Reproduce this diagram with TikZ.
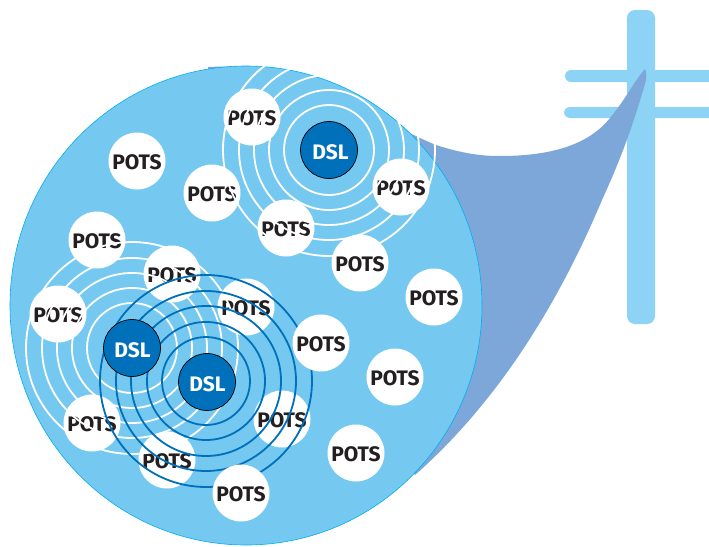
\documentclass[tikz,border=0pt]{standalone}
\usepackage{fontspec}
\setmainfont{Fira Sans}
\definecolor{polecol}{HTML}{8DD3F5}
\definecolor{lenscol}{HTML}{7DA7D9}
\definecolor{zonecol}{HTML}{75C9F1}
\definecolor{edgecol}{HTML}{00AEEF}
\definecolor{dslcol}{HTML}{0070BA}
\definecolor{potstext}{HTML}{231F20}
\tikzset{
  pots/.style={circle, fill=white, minimum size=57, inner sep=0pt, text=potstext, text height=17pt, text depth=0pt, font=\fontsize{21}{21}\selectfont\bfseries},
  dsl/.style={circle, fill=dslcol, draw=black, line width=0.7pt, minimum size=57, inner sep=0pt, text=white, text height=18pt, text depth=0pt, font=\fontsize{21}{21}\selectfont\bfseries},
  ringwhite/.style={white, line width=1.8pt},
  ringdark/.style={dslcol, line width=1.8pt}
}
\begin{document}
\begin{tikzpicture}[x=1pt,y=-1pt]
  \useasboundingbox (0,0) rectangle (709,546);
  % pole
  \fill [polecol, rounded corners=6] (565,70) rectangle (720,82);
  \fill [polecol, rounded corners=6] (564,107) rectangle (720,118);
  \fill [polecol, rounded corners=8] (627,10) rectangle (655,324);
  % lens
  \fill [lenscol] (208,67) .. controls (300,62) and (370,118) .. (436,145)
    .. controls (470,156) and (490,156) .. (500,156)
    .. controls (555,156) and (590,143) .. (610,118)
    .. controls (625,100) and (635,80) .. (645,69)
    .. controls (647,72) and (646,76) .. (646,80)
    .. controls (632,130) and (618,165) .. (602,200)
    .. controls (560,300) and (500,400) .. (415,475) -- (246,305) -- cycle;
  % zone
  \draw [edgecol, fill=zonecol, line width=0.6pt] (246,305.5) ellipse (236 and 239.5);
  \coordinate (ringA) at (329,150);
  \coordinate (ringB) at (132,348);
  \coordinate (ringC) at (206,381);
  % sets under the rings
  \node [pots] (p1) at (252,117) {POTS};
  \node [pots] (p2) at (212,193) {POTS};
  \node [pots] (p3) at (401,187) {POTS};
  \node [pots] (p4) at (286,228) {POTS};
  \node [pots] (p5) at (97,240) {POTS};
  \node [pots] (p6) at (172,274) {POTS};
  \node [pots] (p7) at (246,307) {POTS};
  \node [pots] (p8) at (58,314) {POTS};
  \node [pots] (p9) at (92,423) {POTS};
  \node [pots] (p10) at (167,460) {POTS};
  \node [pots] (p11) at (282,419) {POTS};
  % rings
  \foreach \r in {45,60,75,90,106} {
    \draw [ringwhite] (ringA) circle (\r);
    \draw [ringwhite] (ringB) circle (\r);
  }
  \foreach \r in {44,59,75,90,106}
    \draw [ringdark] (ringC) circle (\r);
  % sets over the rings
  \node [pots] (p12) at (137,161) {POTS};
  \node [pots] (p13) at (360,263) {POTS};
  \node [pots] (p14) at (434,297) {POTS};
  \node [pots] (p15) at (321,343) {POTS};
  \node [pots] (p16) at (395,377) {POTS};
  \node [pots] (p17) at (356,453) {POTS};
  \node [pots] (p18) at (241,493) {POTS};
  % modems
  \node [dsl] (dslA) at (ringA) {\hspace{3pt}DSL};
  \node [dsl] (dslB) at (ringB) {\hspace{1pt}DSL};
  \node [dsl] (dslC) at (207,382) {\hspace{1pt}DSL};
\end{tikzpicture}
\end{document}
